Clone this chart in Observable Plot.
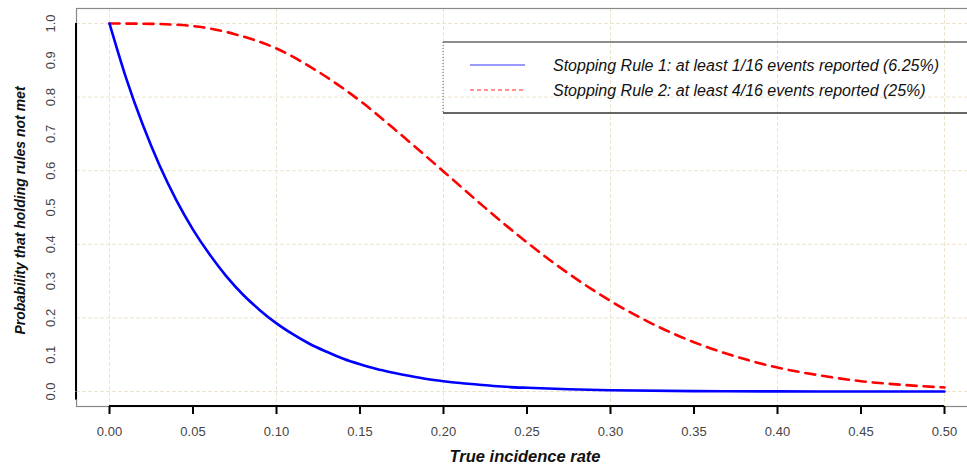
<!DOCTYPE html>
<html>
<head>
<meta charset="utf-8">
<script src="https://cdn.jsdelivr.net/npm/d3@7"></script>
<script src="https://cdn.jsdelivr.net/npm/@observablehq/plot@0.6"></script>
<style>
  html, body { margin: 0; padding: 0; background: #fff; }
  #chart svg { display: block; }
</style>
</head>
<body>
<div id="chart"></div>
<script>
// ---- data ----
const rule1Rates = [0, 0.01, 0.02, 0.03, 0.04, 0.05, 0.06, 0.07, 0.08, 0.09, 0.10,
  0.11, 0.12, 0.13, 0.14, 0.15, 0.16, 0.17, 0.18, 0.19, 0.20, 0.21, 0.22, 0.23, 0.24, 0.25,
  0.275, 0.30, 0.35, 0.40, 0.45, 0.50];
const rule1Probs = [1.0, 0.851, 0.724, 0.614, 0.520, 0.440, 0.372, 0.313, 0.263, 0.221, 0.185,
  0.155, 0.129, 0.108, 0.089, 0.074, 0.061, 0.051, 0.042, 0.034, 0.028, 0.023, 0.019, 0.015, 0.012, 0.010,
  0.006, 0.0033, 0.001, 0.0003, 0.0001, 0.00002];

const rule2Rates = [0, 0.025, 0.05, 0.075, 0.10, 0.125, 0.15, 0.175, 0.20, 0.225, 0.25,
  0.275, 0.30, 0.325, 0.35, 0.375, 0.40, 0.425, 0.45, 0.475, 0.50];
const rule2Probs = [1.0, 0.999, 0.993, 0.971, 0.932, 0.869, 0.790, 0.696, 0.598, 0.499, 0.405,
  0.320, 0.246, 0.184, 0.134, 0.095, 0.065, 0.044, 0.028, 0.018, 0.011];

const xTicks = [0, 0.05, 0.10, 0.15, 0.20, 0.25, 0.30, 0.35, 0.40, 0.45, 0.50];
const yTicks = [0, 0.1, 0.2, 0.3, 0.4, 0.5, 0.6, 0.7, 0.8, 0.9, 1.0];
const xGrid = [0, 0.1, 0.2, 0.3, 0.4, 0.5];
const yGrid = [0, 0.2, 0.4, 0.6, 0.8, 1.0];

const legendLabels = [
  "Stopping Rule 1: at least 1/16 events reported (6.25%)",
  "Stopping Rule 2: at least 4/16 events reported (25%)"
];
const xLabel = "True incidence rate";
const yLabel = "Probability that holding rules not met";

const rule1 = rule1Rates.map((x, i) => ({x, y: rule1Probs[i]}));
const rule2 = rule2Rates.map((x, i) => ({x, y: rule2Probs[i]}));

const FONT = "'Liberation Sans', Arial, Helvetica, sans-serif";

// spines drawn with the scales
function spines(index, scales, values, dim) {
  const g = d3.create("svg:g");
  const x0 = dim.marginLeft;
  g.append("line").attr("x1", x0).attr("x2", x0)
    .attr("y1", scales.y(1)).attr("y2", scales.y(0))
    .attr("stroke", "black").attr("stroke-width", 2);
  const yb = dim.height - dim.marginBottom;
  g.append("line").attr("x1", scales.x(0)).attr("x2", scales.x(0.5))
    .attr("y1", yb).attr("y2", yb)
    .attr("stroke", "black").attr("stroke-width", 2);
  return g.node();
}

function legend(index, scales, values, dim) {
  const g = d3.create("svg:g");
  const left = 443, top = 42, bottom = 113, right = dim.width;
  g.append("line").attr("x1", left).attr("x2", right).attr("y1", top).attr("y2", top)
    .attr("stroke", "#666").attr("stroke-width", 1.5);
  g.append("line").attr("x1", left).attr("x2", right).attr("y1", bottom).attr("y2", bottom)
    .attr("stroke", "#333").attr("stroke-width", 1.5);
  g.append("line").attr("x1", left).attr("x2", left).attr("y1", top).attr("y2", bottom)
    .attr("stroke", "#666").attr("stroke-width", 1).attr("stroke-dasharray", "1,2");
  const rows = [
    {y: 65, color: "#3333ff", dash: null, label: legendLabels[0]},
    {y: 90, color: "#ff2222", dash: "4,3", label: legendLabels[1]}
  ];
  for (const r of rows) {
    const l = g.append("line").attr("x1", 470).attr("x2", 525).attr("y1", r.y).attr("y2", r.y)
      .attr("stroke", r.color).attr("stroke-width", 1);
    if (r.dash) l.attr("stroke-dasharray", r.dash);
    g.append("text").attr("x", 553).attr("y", r.y + 5.5)
      .attr("text-anchor", "start")
      .attr("font-family", FONT).attr("font-size", 16).attr("font-style", "italic")
      .attr("fill", "#111").text(r.label);
  }
  return g.node();
}

const chart = Plot.plot({
  width: 967,
  height: 470,
  marginLeft: 76,
  marginTop: 8,
  marginBottom: 64,
  marginRight: -6,
  style: {fontFamily: FONT, background: "white"},
  x: {domain: [0, 0.5], range: [109, 944]},
  y: {domain: [0, 1], range: [391, 23]},
  marks: [
    Plot.gridX(xGrid, {stroke: "#ece4cc", strokeOpacity: 1, strokeDasharray: "4,2"}),
    Plot.gridY(yGrid, {stroke: "#ece4cc", strokeOpacity: 1, strokeDasharray: "4,2"}),
    Plot.frame({stroke: "#888", strokeWidth: 1.2}),
    Plot.axisX(xTicks, {anchor: "bottom", tickSize: 8, tickPadding: 12, stroke: "black", strokeWidth: 2,
      fill: "#444", fontSize: 13, tickFormat: d3.format(".2f"), label: null}),
    Plot.axisY(yTicks, {anchor: "left", tickSize: 8, tickPadding: 18, stroke: "black", strokeWidth: 2,
      fill: "#444", fontSize: 13, rotate: -90, textAnchor: "middle", tickFormat: d3.format(".1f"), label: null}),
    spines,
    Plot.text([xLabel], {text: d => d, frameAnchor: "bottom", dy: 55, fontSize: 16.5,
      fontWeight: "bold", fontStyle: "italic", fill: "#111"}),
    Plot.text([yLabel], {text: d => d, frameAnchor: "left", dx: -56, dy: 3, rotate: -90, textAnchor: "middle", fontSize: 14,
      fontWeight: "bold", fontStyle: "italic", fill: "#111"}),
    Plot.line(rule2, {x: "x", y: "y", stroke: "#ff0000", strokeWidth: 2.6, strokeDasharray: "10,7", curve: "monotone-x"}),
    Plot.line(rule1, {x: "x", y: "y", stroke: "#0000ff", strokeWidth: 2.6, curve: "monotone-x"}),
    legend
  ]
});
document.getElementById("chart").appendChild(chart);
</script>
</body>
</html>
